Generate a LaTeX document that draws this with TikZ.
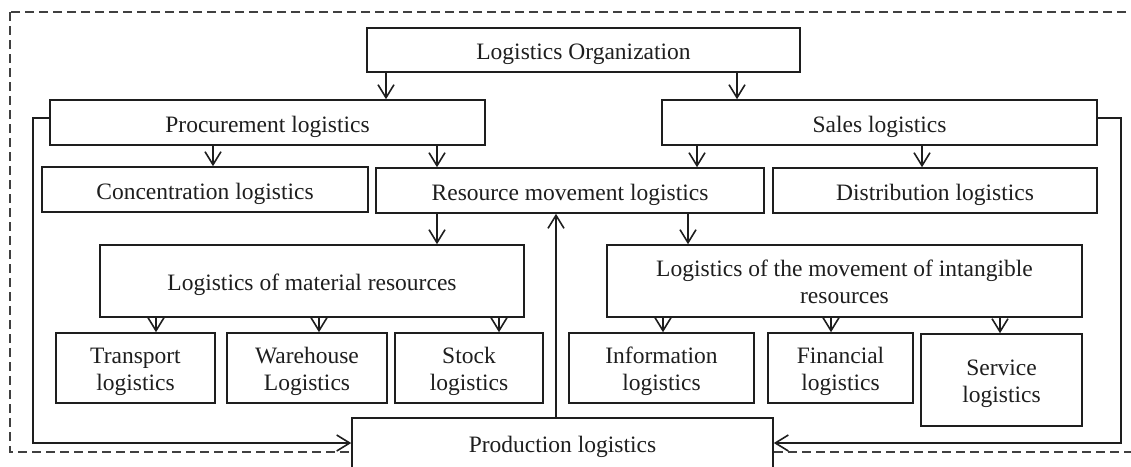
\documentclass[tikz,border=0pt]{standalone}
\usepackage{fontspec}
\setmainfont{Liberation Serif}
\usetikzlibrary{arrows.meta}
\definecolor{ink}{HTML}{1E1E1E}
\tikzset{
  box/.style={draw=ink, line width=1.6pt, fill=white, inner sep=0pt, align=center,
    text=ink, font=\fontsize{23.5}{27}\selectfont},
  oneline/.style={box, text height=22pt, text depth=3pt},
  twoline/.style={box, text height=47pt, text depth=3pt},
  arr/.style={draw=ink, line width=1.6pt, -{Straight Barb[length=13pt,width=16pt,line width=1.6pt]}},
  frame/.style={draw=ink!85, line width=1.3pt, dash pattern=on 9pt off 5pt}
}
\begin{document}
\begin{tikzpicture}[x=1pt,y=-1pt]
\useasboundingbox (0,0) rectangle (1131,466);
\clip (0,0) rectangle (1131,466);

% outer dashed frame
\draw[frame] (10,12) rectangle (1150,452);

% boxes
\node[oneline, minimum width=433pt, minimum height=44pt] (lo) at (583.5,50) {Logistics Organization};
\node[oneline, minimum width=435pt, minimum height=45pt] (proc) at (267.5,122.5) {Procurement logistics};
\node[oneline, minimum width=435pt, minimum height=45pt] (sales) at (879.5,122.5) {Sales logistics};
\node[oneline, minimum width=326pt, minimum height=45pt] (conc) at (205,189.5) {Concentration logistics};
\node[oneline, minimum width=388pt, minimum height=45pt] (rml) at (570,190.5) {Resource movement logistics};
\node[oneline, minimum width=324pt, minimum height=45pt] (dist) at (935,190.5) {Distribution logistics};
\node[oneline, minimum width=424pt, minimum height=72pt] (mat) at (312,281) {Logistics of material resources};
\node[twoline, minimum width=475pt, minimum height=72pt] (intan) at (844.5,281) {Logistics of the movement of intangible\\resources};
\node[twoline, minimum width=159pt, minimum height=70pt] (trans) at (135.5,368) {Transport\\logistics};
\node[twoline, minimum width=160pt, minimum height=70pt] (ware) at (307,368) {Warehouse\\Logistics};
\node[twoline, minimum width=148pt, minimum height=70pt] (stock) at (469,368) {Stock\\logistics};
\node[twoline, minimum width=185pt, minimum height=70pt] (info) at (661.5,368) {Information\\logistics};
\node[twoline, minimum width=145pt, minimum height=70pt] (fin) at (840.5,368) {Financial\\logistics};
\node[twoline, minimum width=161pt, minimum height=92pt] (serv) at (1001.5,380) {Service\\logistics};
\node[oneline, minimum width=421pt, minimum height=50pt] (prod) at (562.5,443) {Production logistics};

% column positions of the vertical connectors
\coordinate (x156) at (156,0);
\coordinate (x213) at (213,0);
\coordinate (x319) at (319,0);
\coordinate (x386) at (386,0);
\coordinate (x437) at (437,0);
\coordinate (x499) at (499,0);
\coordinate (x556) at (556,0);
\coordinate (x663) at (663,0);
\coordinate (x688) at (688,0);
\coordinate (x697) at (697,0);
\coordinate (x737) at (737,0);
\coordinate (x831) at (831,0);
\coordinate (x922) at (922,0);
\coordinate (x1000) at (1000,0);
\coordinate (xl) at (33,0);
\coordinate (xr) at (1121,0);

% top level
\draw[arr] (lo.south -| x386) -- (proc.north -| x386);
\draw[arr] (lo.south -| x737) -- (sales.north -| x737);

% second level
\draw[arr] (proc.south -| x213) -- (conc.north -| x213);
\draw[arr] (proc.south -| x437) -- (rml.north -| x437);
\draw[arr] (sales.south -| x697) -- (rml.north -| x697);
\draw[arr] (sales.south -| x922) -- (dist.north -| x922);

% resource movement split
\draw[arr] (rml.south -| x437) -- (mat.north -| x437);
\draw[arr] (rml.south -| x688) -- (intan.north -| x688);
\draw[arr] (prod.north -| x556) -- (rml.south -| x556);

% material resources
\draw[arr] (mat.south -| x156) -- (trans.north -| x156);
\draw[arr] (mat.south -| x319) -- (ware.north -| x319);
\draw[arr] (mat.south -| x499) -- (stock.north -| x499);

% intangible resources
\draw[arr] (intan.south -| x663) -- (info.north -| x663);
\draw[arr] (intan.south -| x831) -- (fin.north -| x831);
\draw[arr] (intan.south -| x1000) -- (serv.north -| x1000);

% feedback to production
\draw[arr] ([yshift=4.5pt]proc.west) -| (xl |- prod.west) -- (prod.west);
\draw[arr] ([yshift=4.5pt]sales.east) -| (xr |- prod.east) -- (prod.east);
\end{tikzpicture}
\end{document}
